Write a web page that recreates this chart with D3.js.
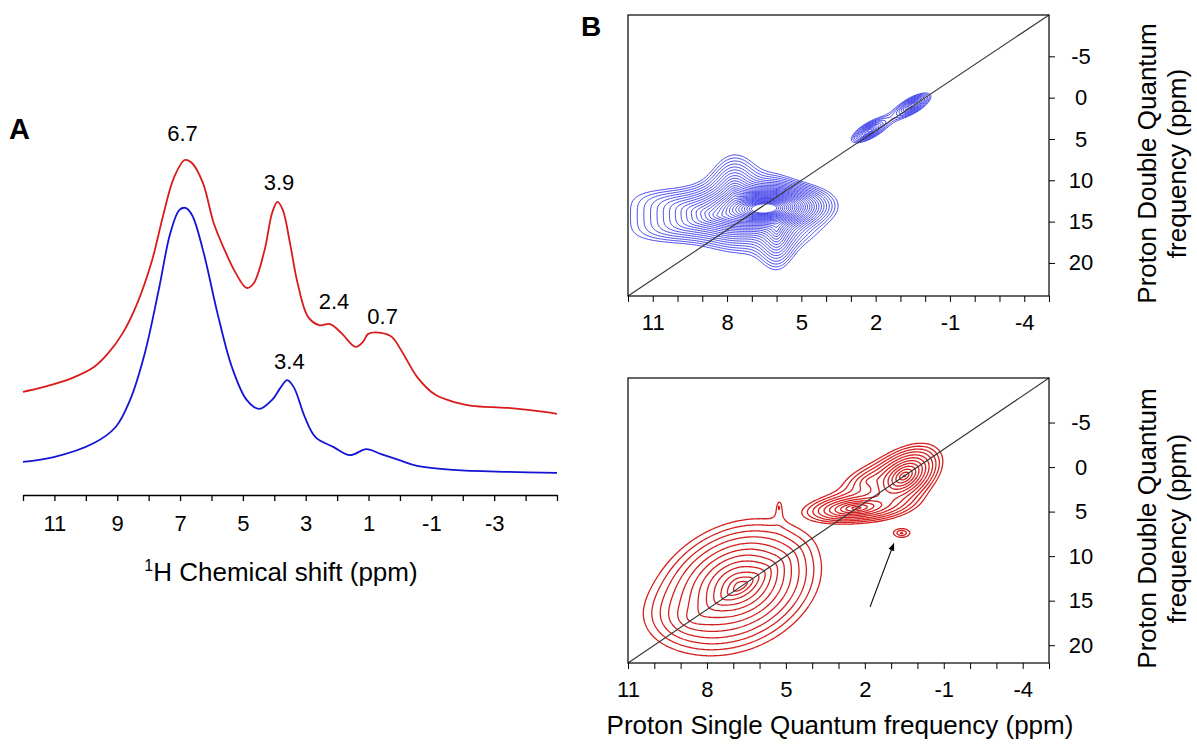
<!DOCTYPE html>
<html>
<head>
<meta charset="utf-8">
<script src="https://cdn.jsdelivr.net/npm/d3@7"></script>
<style>
body { margin: 0; background: #fff; }
text { font-family: "Liberation Sans", Arial, sans-serif; fill: #000; }
</style>
</head>
<body>
<script>
// ---- panel A: 1D spectra ----
var redPpm = [12.0, 11.36, 10.44, 9.74, 9.28, 8.82, 8.36, 7.89, 7.55, 7.2, 6.85, 6.62, 6.27, 5.93, 5.58, 5.23, 4.88, 4.65, 4.31, 4.07, 3.9, 3.73, 3.5, 3.26, 2.92, 2.57, 2.22, 1.87, 1.41, 1.18, 1.01, 0.6, 0.26, -0.09, -0.55, -1.13, -1.83, -2.29, -3.45, -4.6, -5.0];
var redInt = [30.8, 32.2, 34.9, 38.2, 42.4, 48.4, 57.3, 70.1, 83.0, 94.6, 100, 99.1, 93.1, 81.2, 73.1, 66.3, 61.8, 63.3, 73.1, 84.2, 87.5, 85.1, 75.2, 63.3, 53.1, 50.7, 51.0, 48.4, 44.2, 45.7, 48.1, 48.4, 47.2, 42.4, 35.2, 29.9, 27.5, 26.6, 26.0, 24.8, 24.2];
var bluePpm = [12.0, 11.02, 9.74, 9.05, 8.59, 8.12, 7.66, 7.31, 7.02, 6.83, 6.62, 6.27, 5.81, 5.35, 4.88, 4.48, 4.07, 3.79, 3.59, 3.38, 3.03, 2.69, 2.11, 1.59, 1.07, 0.6, 0.02, -0.55, -1.71, -3.45, -5.0];
var blueInt = [9.9, 11.3, 15.5, 20.3, 28.4, 42.4, 62.1, 78.2, 85.1, 85.7, 83.6, 73.1, 54.3, 38.2, 28.4, 25.7, 28.4, 32.2, 34.3, 32.2, 23.3, 17.3, 14.3, 11.9, 13.7, 12.2, 10.4, 8.7, 7.5, 6.9, 6.6];

var peakText = ["6.7", "3.9", "2.4", "0.7", "3.4"];
var peakPpm = [6.92, 3.85, 2.1, 0.55, 3.52];
var peakInt = [105.8, 90.9, 55.4, 50.9, 37.5];
var labelsA = [11, 9, 7, 5, 3, 1, -1, -3];

// ---- panel B: DQ/SQ peaks (ppm), amplitude, line widths (ppm), tilt, shape exponent, group ----
var blueSQ    = [6.5, 8.3, 7.7, 6.0, 2.25, 0.5];
var blueDQ    = [13.4, 14.3, 11.8, 16.0, 4.0, 0.9];
var blueAmp   = [1.0, 0.06, 0.05, 0.05, 0.05, 0.05];
var blueWsq   = [0.55, 2.0, 0.55, 0.4, 0.45, 0.45];
var blueWdq   = [0.6, 1.8, 2.8, 2.6, 0.9, 0.9];
var blueRho   = [0.1, 0.0, 0.0, 0.0, 0.7, 0.7];
var blueShape = [2, 4, 2, 2, 2, 2];
var blueGroup = [0, 0, 0, 0, 1, 1];
var blueLevels = [0.01, 0.0115, 0.0132, 0.0152, 0.0175, 0.0201, 0.0231, 0.0266, 0.0306, 0.0352, 0.0405, 0.0466, 0.0536, 0.0616, 0.0709, 0.0815, 0.0937, 0.108, 0.124, 0.143, 0.164, 0.189, 0.217, 0.25, 0.287, 0.33, 0.38, 0.437];

var redSQ    = [6.8, 6.7, 8.5, 5.25, 2.33, 0.5, 1.8, 0.6];
var redDQ    = [13.2, 13.4, 17.0, 4.5, 4.6, 1.0, 1.5, 7.4];
var redAmp   = [0.65, 0.35, 0.06, 0.03, 0.48, 0.75, 0.08, 0.06];
var redWsq   = [1.02, 0.5, 1.2, 0.12, 0.72, 0.44, 0.85, 0.45];
var redWdq   = [2.4, 1.0, 2.0, 1.0, 0.62, 1.1, 1.4, 0.7];
var redRho   = [0.25, 0.85, 0.0, 0.0, 0.3, 0.45, 0.4, 0.0];
var redShape = [2, 2, 2, 2, 2, 2, 2, 2];
var redGroup = [0, 0, 0, 0, 1, 1, 1, 2];
var redLevels = [0.03, 0.04, 0.053, 0.07, 0.094, 0.125, 0.166, 0.22, 0.29, 0.39, 0.52, 0.69, 0.92];

var sqLabels = [11, 8, 5, 2, -1, -4];
var dqLabels = [-5, 0, 5, 10, 15, 20];
var arrowFrom = [1.8, 15.7];
var arrowTo = [0.9, 8.6];

var svg = d3.select("body").append("svg")
	.attr("width", 1197)
	.attr("height", 744);

// ================= panel A =================
var xA = d3.scaleLinear().domain([12, -5]).range([23, 557]);
var yA = d3.scaleLinear().domain([0, 100]).range([495, 160]);

svg.append("text").attr("x", 9).attr("y", 139)
	.attr("font-size", "29px").attr("font-weight", "bold").text("A");

var lineA = d3.line()
	.x(d => xA(d[0]))
	.y(d => yA(d[1]))
	.curve(d3.curveCatmullRom.alpha(0.5));

svg.append("path")
	.attr("d", lineA(d3.zip(redPpm, redInt)))
	.attr("fill", "none").attr("stroke", "#d81c1c").attr("stroke-width", 1.8);
svg.append("path")
	.attr("d", lineA(d3.zip(bluePpm, blueInt)))
	.attr("fill", "none").attr("stroke", "#1414d4").attr("stroke-width", 1.8);

svg.selectAll(".peak").data(peakText).enter()
	.append("text")
	.attr("class", "peak")
	.attr("x", (d, i) => xA(peakPpm[i]))
	.attr("y", (d, i) => yA(peakInt[i]))
	.attr("text-anchor", "middle")
	.attr("font-size", "22px")
	.text(d => d);

function minorAxis(axisFn, scale, values, size) {
	return axisFn(scale).tickValues(values).tickSize(size).tickSizeOuter(0).tickFormat("");
}

var gA = svg.append("g").attr("transform", "translate(0,495)");
gA.call(minorAxis(d3.axisBottom, xA, d3.range(-25, 61).map(d => d / 5), 2.5));
gA.call(d3.axisBottom(xA)
	.tickValues(d3.range(-5, 13))
	.tickSize(6).tickSizeOuter(0).tickPadding(14)
	.tickFormat(d => labelsA.indexOf(d) >= 0 ? String(d) : ""));
gA.selectAll("text").attr("font-size", "22px").attr("font-family", null);
gA.selectAll("path,line").attr("stroke", "#000").attr("stroke-width", 1.3);

var tA = svg.append("text").attr("x", 281).attr("y", 581)
	.attr("text-anchor", "middle").attr("font-size", "26px");
tA.append("tspan").attr("font-size", "16px").attr("dy", "-10").text("1");
tA.append("tspan").attr("dy", "10").text("H Chemical shift (ppm)");

// ================= panel B =================
svg.append("text").attr("x", 581).attr("y", 36)
	.attr("font-size", "28px").attr("font-weight", "bold").text("B");

// peaks in one group add up; separate groups do not bleed into each other
function field(sq, dq, p) {
	var sums = {};
	for (var k = 0; k < p.sq.length; k++) {
		var u = (sq - p.sq[k]) / p.wsq[k];
		var v = (dq - p.dq[k]) / p.wdq[k];
		var r;
		if (p.shape[k] === 2) {
			var c = p.rho[k];
			r = Math.sqrt(Math.max((u * u - 2 * c * u * v + v * v) / (1 - c * c), 0));
		} else {
			var q = p.shape[k];
			r = Math.pow(Math.pow(Math.abs(u), q) + Math.pow(Math.abs(v), q), 1 / q);
		}
		sums[p.group[k]] = (sums[p.group[k]] || 0) + p.amp[k] * Math.exp(-r);
	}
	return d3.max(Object.values(sums));
}

function drawContours(g, x, y, p, levels, color, lw) {
	var step = 1.5;
	var nx = Math.floor(x.range()[1] / step);
	var ny = Math.floor(y.range()[1] / step);
	var vals = new Array(nx * ny);
	for (var j = 0; j < ny; j++) {
		for (var i = 0; i < nx; i++) {
			vals[j * nx + i] = field(x.invert((i + 0.5) * step), y.invert((j + 0.5) * step), p);
		}
	}
	var cs = d3.contours().size([nx, ny]).thresholds(levels)(vals);
	var path = d3.geoPath(d3.geoIdentity().scale(step));
	g.append("g").selectAll("path").data(cs).enter()
		.append("path")
		.attr("d", path)
		.attr("fill", "none")
		.attr("stroke", color)
		.attr("stroke-width", lw)
		.attr("stroke-linejoin", "round");
}

function panelB(left, top, w, h, sqDom, dqDom, peaks, levels, color, lw) {
	var x = d3.scaleLinear().domain(sqDom).range([0, w]);
	var y = d3.scaleLinear().domain(dqDom).range([0, h]);
	var g = svg.append("g").attr("transform", "translate(" + left + "," + top + ")");

	drawContours(g, x, y, peaks, levels, color, lw);

	// diagonal DQ = 2 * SQ
	g.append("line")
		.attr("x1", x(sqDom[0])).attr("y1", y(2 * sqDom[0]))
		.attr("x2", x(dqDom[0] / 2)).attr("y2", y(dqDom[0]))
		.attr("stroke", "#333").attr("stroke-width", 1.1);

	g.append("rect").attr("width", w).attr("height", h)
		.attr("fill", "none").attr("stroke", "#000").attr("stroke-width", 1.2);

	var lo = Math.ceil(Math.min(sqDom[0], sqDom[1])), hi = Math.floor(Math.max(sqDom[0], sqDom[1]));
	var bx = g.append("g").attr("transform", "translate(0," + h + ")");
	bx.call(minorAxis(d3.axisBottom, x, d3.range(lo * 5, hi * 5 + 1).map(d => d / 5), 2.5));
	bx.call(d3.axisBottom(x).tickValues(d3.range(lo, hi + 1))
		.tickSize(6).tickSizeOuter(0).tickPadding(12)
		.tickFormat(d => sqLabels.indexOf(d) >= 0 ? String(d) : ""));

	var ry = g.append("g").attr("transform", "translate(" + w + ",0)");
	ry.call(minorAxis(d3.axisRight, y, d3.range(Math.ceil(dqDom[0]), Math.floor(dqDom[1]) + 1), 3));
	ry.call(d3.axisRight(y).tickValues(dqLabels).tickSize(6).tickSizeOuter(0)
		.tickFormat(d => String(d)));
	ry.selectAll("text").attr("text-anchor", "middle").attr("x", 32);

	g.selectAll(".tick text").attr("font-size", "22px").attr("font-family", null);
	g.selectAll(".domain").remove();
	g.selectAll(".tick line").attr("stroke", "#000").attr("stroke-width", 1);

	var t = g.append("g").attr("transform", "translate(" + (w + 107) + "," + (h / 2 + 8) + ") rotate(-90)");
	t.append("text").attr("text-anchor", "middle").attr("font-size", "26px").text("Proton Double Quantum");
	t.append("text").attr("text-anchor", "middle").attr("font-size", "26px").attr("y", 30).text("frequency (ppm)");
	return { g: g, x: x, y: y };
}

var top = panelB(628, 15, 421, 281, [12, -5], [-10, 24],
	{ sq: blueSQ, dq: blueDQ, amp: blueAmp, wsq: blueWsq, wdq: blueWdq, rho: blueRho, shape: blueShape, group: blueGroup },
	blueLevels, "#1a1ae6", 0.8);

var bot = panelB(628, 378, 421, 285, [11, -5], [-10, 22],
	{ sq: redSQ, dq: redDQ, amp: redAmp, wsq: redWsq, wdq: redWdq, rho: redRho, shape: redShape, group: redGroup },
	redLevels, "#d42020", 1.3);

// arrow to the weak cross peak
svg.append("defs").append("marker")
	.attr("id", "head").attr("viewBox", "0 0 10 10")
	.attr("refX", 9).attr("refY", 5)
	.attr("markerWidth", 7).attr("markerHeight", 7)
	.attr("orient", "auto")
	.append("path").attr("d", "M0,1 L10,5 L0,9 Z").attr("fill", "#000");
bot.g.append("line")
	.attr("x1", bot.x(arrowFrom[0])).attr("y1", bot.y(arrowFrom[1]))
	.attr("x2", bot.x(arrowTo[0])).attr("y2", bot.y(arrowTo[1]))
	.attr("stroke", "#000").attr("stroke-width", 1.1)
	.attr("marker-end", "url(#head)");

svg.append("text").attr("x", 840).attr("y", 734)
	.attr("text-anchor", "middle").attr("font-size", "26px")
	.text("Proton Single Quantum frequency (ppm)");
</script>
</body>
</html>
